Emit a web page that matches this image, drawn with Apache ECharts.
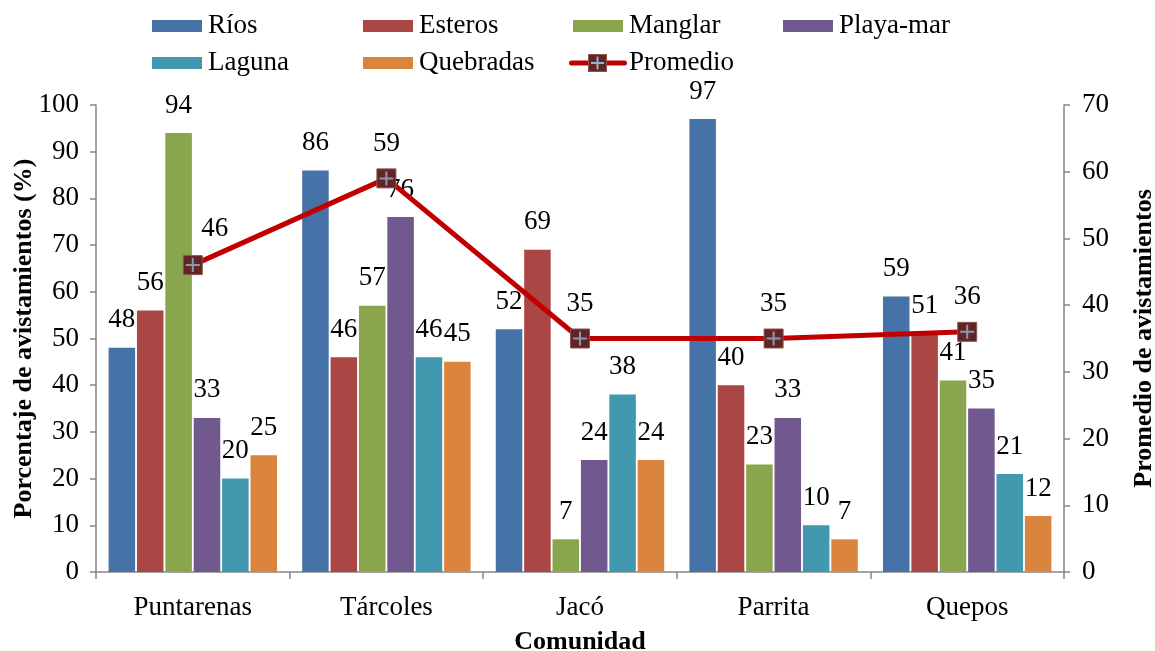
<!DOCTYPE html>
<html>
<head>
<meta charset="utf-8">
<script src="https://cdn.jsdelivr.net/npm/echarts@6/dist/echarts.min.js"></script>
<style>
  html, body { margin: 0; padding: 0; background: #ffffff; }
  #chart { width: 1155px; height: 651px; }
</style>
</head>
<body>
<div id="chart"></div>
<script>
// Communities and sighting percentages per habitat
const categories = ['Puntarenas', 'Tárcoles', 'Jacó', 'Parrita', 'Quepos'];
const habitatNames = ['Ríos', 'Esteros', 'Manglar', 'Playa-mar', 'Laguna', 'Quebradas'];
const rios = [48, 86, 52, 97, 59];
const esteros = [56, 46, 69, 40, 51];
const manglar = [94, 57, 7, 23, 41];
const playaMar = [33, 76, 24, 33, 35];
const laguna = [20, 46, 38, 10, 21];
const quebradas = [25, 45, 24, 7, 12];
// Average number of sightings (right axis)
const promedioName = 'Promedio';
const promedio = [46, 59, 35, 35, 36];
// Axis ranges
const leftAxisMax = 100;
const rightAxisMax = 70;
const axisStep = 10;

const habitatValues = [rios, esteros, manglar, playaMar, laguna, quebradas];
const habitatColors = ['#4572A7', '#AA4643', '#89A54E', '#71588F', '#4198AF', '#DB843D'];

const FONT = "'Liberation Serif', 'Times New Roman', serif";
const AXIS_GREY = '#868686';
const LINE_RED = '#C00000';
const MARKER_FILL = '#632523';
const PLUS_BLUE = '#95B3D7';

const chart = echarts.init(document.getElementById('chart'), null, { renderer: 'canvas' });

const textBase = { fontFamily: FONT, fontSize: 27, color: '#000000' };

// Legend icon for the average line: red stroke, dark square, light plus
const promedioIconSvg =
  '<svg xmlns="http://www.w3.org/2000/svg" width="58" height="20" viewBox="0 0 58 20">' +
  '<line x1="2.5" y1="10" x2="55.5" y2="10" stroke="' + LINE_RED + '" stroke-width="5" stroke-linecap="round"/>' +
  '<rect x="19.5" y="1.5" width="18" height="17" fill="' + MARKER_FILL + '" stroke="#8a5553" stroke-width="1"/>' +
  '<line x1="28.5" y1="3.5" x2="28.5" y2="16.5" stroke="' + PLUS_BLUE + '" stroke-width="2"/>' +
  '<line x1="22" y1="10" x2="35" y2="10" stroke="' + PLUS_BLUE + '" stroke-width="2"/>' +
  '</svg>';
const promedioIcon = 'image://data:image/svg+xml;charset=utf-8,' + encodeURIComponent(promedioIconSvg);

// Legend slots: two rows, four columns
const legendSlots = [
  { name: habitatNames[0], left: 152, top: 11 },
  { name: habitatNames[1], left: 363, top: 11 },
  { name: habitatNames[2], left: 573, top: 11 },
  { name: habitatNames[3], left: 783, top: 11 },
  { name: habitatNames[4], left: 152, top: 48 },
  { name: habitatNames[5], left: 363, top: 48 },
  { name: promedioName, left: 569, top: 48 }
];

const legends = legendSlots.map(function (slot) {
  const isLine = slot.name === promedioName;
  return {
    data: [isLine ? { name: slot.name, icon: promedioIcon } : { name: slot.name, icon: 'rect' }],
    left: slot.left,
    top: slot.top,
    orient: 'horizontal',
    padding: 0,
    itemWidth: isLine ? 58 : 50,
    itemHeight: isLine ? 20 : 12,
    itemGap: 0,
    selectedMode: false,
    textStyle: Object.assign({}, textBase, { lineHeight: 30, padding: [0, 0, 0, isLine ? -3 : 1] })
  };
});

const barSeries = habitatNames.map(function (name, i) {
  return {
    name: name,
    type: 'bar',
    yAxisIndex: 0,
    data: habitatValues[i],
    barGap: '7%',
    barCategoryGap: '13%',
    itemStyle: { color: habitatColors[i] },
    label: {
      show: true,
      position: 'top',
      distance: 14,
      fontFamily: FONT,
      fontSize: 27,
      color: '#000000'
    },
    z: 2
  };
});

// Per-point label tweaks for the average line
const promedioData = promedio.map(function (v, i) {
  if (i === 0) {
    return { value: v, label: { offset: [22, -2] } };
  }
  return { value: v };
});

const lineSeries = {
  name: promedioName,
  type: 'line',
  yAxisIndex: 1,
  data: promedioData,
  symbol: 'rect',
  symbolSize: 19,
  lineStyle: { color: LINE_RED, width: 5 },
  itemStyle: { color: MARKER_FILL, borderColor: '#8a5553', borderWidth: 1 },
  label: {
    show: true,
    position: 'top',
    distance: 11,
    fontFamily: FONT,
    fontSize: 27,
    color: '#000000'
  },
  z: 4
};

// Light plus marks drawn over each square marker
const plusSeries = {
  name: promedioName + '-marca',
  type: 'scatter',
  yAxisIndex: 1,
  data: promedio,
  symbol: 'path://M6,0H8V14H6Z M0,6H14V8H0Z',
  symbolSize: 14,
  itemStyle: { color: PLUS_BLUE },
  silent: true,
  z: 5
};

const option = {
  backgroundColor: '#ffffff',
  animation: false,
  textStyle: { fontFamily: FONT },
  legend: legends,
  grid: { left: 96, right: 91, top: 105, bottom: 79, containLabel: false, outerBoundsMode: 'none' },
  xAxis: {
    type: 'category',
    data: categories,
    name: 'Comunidad',
    nameLocation: 'middle',
    nameGap: 57,
    nameMoveOverlap: false,
    nameTextStyle: { fontFamily: FONT, fontSize: 26, fontWeight: 'bold', color: '#000000' },
    axisLine: { show: true, lineStyle: { color: AXIS_GREY, width: 1.5 } },
    axisTick: { show: true, alignWithLabel: false, length: 7, lineStyle: { color: AXIS_GREY, width: 1.5 } },
    axisLabel: { margin: 22, fontFamily: FONT, fontSize: 27, color: '#000000' },
    splitLine: { show: false }
  },
  yAxis: [
    {
      type: 'value',
      min: 0,
      max: leftAxisMax,
      interval: axisStep,
      position: 'left',
      name: 'Porcentaje de avistamientos (%)',
      nameLocation: 'middle',
      nameRotate: 90,
      nameGap: 59,
      nameMoveOverlap: false,
      nameTextStyle: { fontFamily: FONT, fontSize: 26, fontWeight: 'bold', color: '#000000' },
      axisLine: { show: true, lineStyle: { color: AXIS_GREY, width: 1.5 } },
      axisTick: { show: true, inside: false, length: 6, lineStyle: { color: AXIS_GREY, width: 1.5 } },
      axisLabel: { margin: 17, fontFamily: FONT, fontSize: 27, color: '#000000' },
      splitLine: { show: false }
    },
    {
      type: 'value',
      min: 0,
      max: rightAxisMax,
      interval: axisStep,
      position: 'right',
      name: 'Promedio de avistamientos',
      nameLocation: 'middle',
      nameRotate: 90,
      nameGap: 67,
      nameMoveOverlap: false,
      nameTextStyle: { fontFamily: FONT, fontSize: 26, fontWeight: 'bold', color: '#000000' },
      axisLine: { show: true, lineStyle: { color: AXIS_GREY, width: 1.5 } },
      axisTick: { show: true, inside: false, length: 6, lineStyle: { color: AXIS_GREY, width: 1.5 } },
      axisLabel: { margin: 18, fontFamily: FONT, fontSize: 27, color: '#000000' },
      splitLine: { show: false }
    }
  ],
  series: barSeries.concat([lineSeries, plusSeries])
};

chart.setOption(option);
</script>
</body>
</html>
